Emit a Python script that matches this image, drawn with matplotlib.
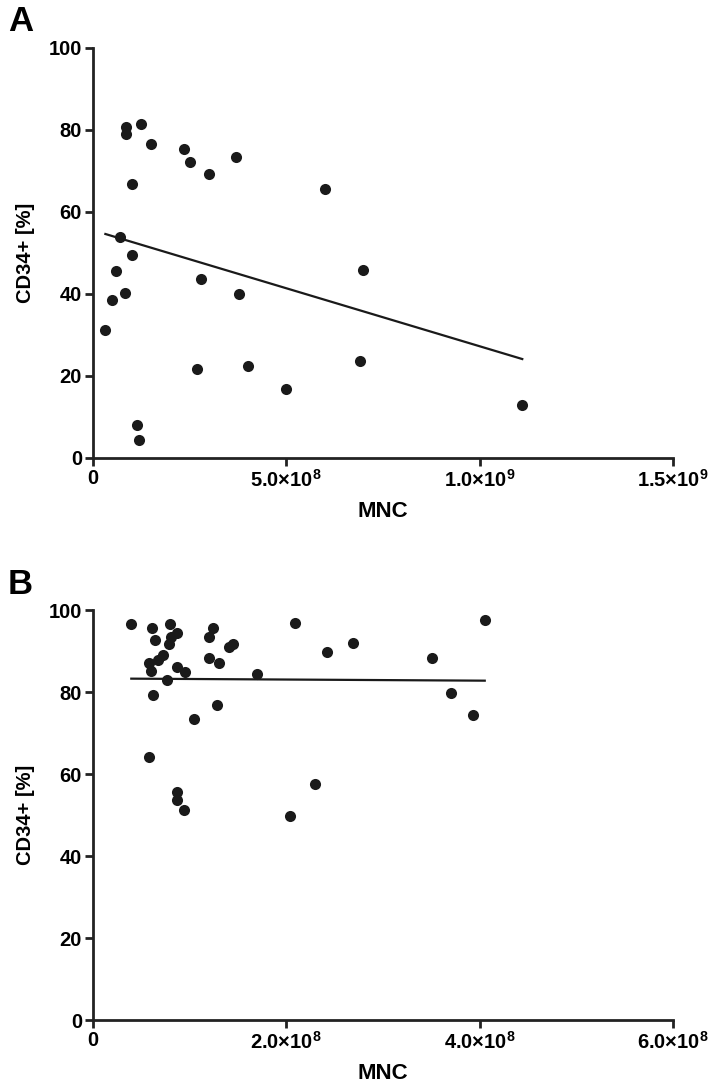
import numpy as np
import matplotlib
matplotlib.use('Agg')
from matplotlib import pyplot as plt
from matplotlib.ticker import FuncFormatter

plt.rcParams['font.family'] = ['Liberation Sans', 'DejaVu Sans']
plt.rcParams['font.weight'] = 'bold'
plt.rcParams['mathtext.fontset'] = 'custom'
plt.rcParams['mathtext.rm'] = 'Liberation Sans'
plt.rcParams['mathtext.bf'] = 'Liberation Sans:bold'

# Panel A: MNC vs CD34+ [%]
mnc_a = [8.5e7, 8.5e7, 1.24e8, 1.49e8, 2.35e8, 2.51e8, 3.0e8, 3.69e8, 1.0e8,
         7.1e7, 1.0e8, 5.9e7, 2.8e8, 4.9e7, 8.4e7, 3.78e8, 3.2e7, 2.69e8,
         4.0e8, 1.15e8, 1.18e8, 6.0e8, 6.99e8, 6.9e8, 4.99e8, 1.11e9]
cd34_a = [80.6, 78.9, 81.5, 76.5, 75.4, 72.3, 69.3, 73.3, 66.7,
          54.0, 49.5, 45.5, 43.7, 38.5, 40.2, 40.1, 31.1, 21.7,
          22.4, 8.1, 4.4, 65.7, 45.8, 23.6, 16.8, 13.0]

# Panel B
mnc_b = [0.396e8, 0.607e8, 0.797e8, 0.638e8, 0.872e8, 0.804e8, 0.786e8,
         1.238e8, 1.197e8, 1.451e8, 1.404e8, 0.67e8, 0.72e8, 0.582e8, 0.597e8,
         0.866e8, 0.952e8, 1.197e8, 1.300e8, 0.769e8, 0.624e8, 1.286e8,
         1.045e8, 0.576e8, 0.866e8, 0.866e8, 0.941e8, 2.038e8, 2.093e8,
         2.424e8, 2.693e8, 3.504e8, 4.052e8, 3.706e8, 3.934e8, 2.300e8,
         1.693e8]
cd34_b = [96.7, 95.5, 96.6, 92.7, 94.3, 93.3, 91.7,
          95.5, 93.5, 91.7, 91.1, 87.9, 89.0, 87.2, 85.2,
          86.0, 85.0, 88.3, 87.1, 82.9, 79.3, 76.8,
          73.3, 64.1, 55.6, 53.7, 51.2, 49.8, 96.9,
          89.8, 92.0, 88.2, 97.5, 79.8, 74.4, 57.6,
          84.4]

xticks_a = [0, 5e8, 1e9, 1.5e9]
xticks_b = [0, 2e8, 4e8, 6e8]
yticks = [0, 20, 40, 60, 80, 100]


def sci_fmt(v, pos):
    if v == 0:
        return '0'
    e = int(np.floor(np.log10(v)))
    m = v / 10 ** e
    return '%.1f\u00d710$^{\\mathbf{%d}}$' % (m, e)


def panel(ax, x, y, xticks):
    x = np.array(x)
    y = np.array(y)
    ax.scatter(x, y, s=64, color='#1a1a1a', zorder=3, linewidths=0)
    k, b = np.polyfit(x, y, 1)
    xl = np.array([x.min(), x.max()])
    ax.plot(xl, k * xl + b, color='#1a1a1a', lw=1.6)
    ax.set_xlim(0, xticks[-1])
    ax.set_ylim(0, 100)
    ax.set_xticks(xticks)
    ax.set_yticks(yticks)
    ax.xaxis.set_major_formatter(FuncFormatter(sci_fmt))
    for s in ['top', 'right']:
        ax.spines[s].set_visible(False)
    for s in ['left', 'bottom']:
        ax.spines[s].set_linewidth(2)
        ax.spines[s].set_color('#222222')
    ax.tick_params(direction='out', length=6, width=2, labelsize=14.5,
                   color='#222222', pad=2)
    for t in ax.get_yticklabels() + ax.get_xticklabels():
        t.set_fontweight('bold')
    ax.set_xlabel('MNC', fontsize=16, fontweight='bold', labelpad=7)
    ax.set_ylabel('CD34+ [%]', fontsize=14.5, fontweight='bold', labelpad=10)


fig = plt.figure(figsize=(7.1, 10.87), dpi=100)
ax1 = fig.add_axes([0.131, 0.5787, 0.817, 0.3772])
ax2 = fig.add_axes([0.131, 0.0616, 0.817, 0.3772])
panel(ax1, mnc_a, cd34_a, xticks_a)
panel(ax2, mnc_b, cd34_b, xticks_b)
fig.text(8 / 710, 1 - 5 / 1087, 'A', fontsize=25, fontweight='bold',
         va='top', ha='left')
fig.text(8 / 710, 1 - 568 / 1087, 'B', fontsize=25, fontweight='bold',
         va='top', ha='left')

fig.savefig('out.png', dpi=100)
